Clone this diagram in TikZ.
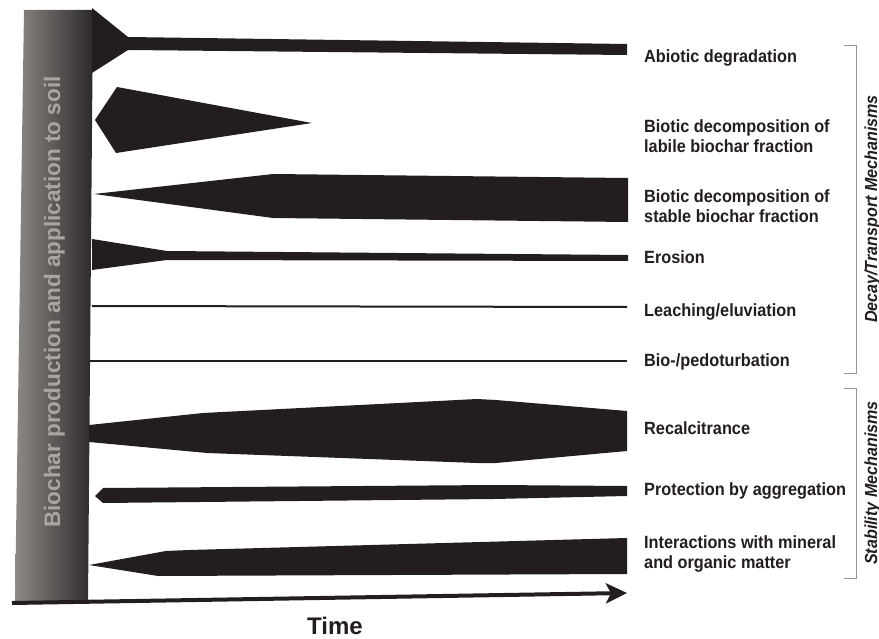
\documentclass[tikz,border=0pt]{standalone}
\usepackage{fontspec}
\setmainfont{Liberation Sans}
\newfontfamily\lblfont[FakeStretch=0.92]{Liberation Sans}
\usepackage{xcolor}
\usepackage{tikz}
\usetikzlibrary{arrows.meta}
\definecolor{charfill}{RGB}{35,29,29}
\definecolor{barlight}{RGB}{140,137,134}
\definecolor{bardark}{RGB}{44,41,41}
\definecolor{bartext}{RGB}{168,166,163}
\definecolor{bracketgray}{RGB}{150,150,150}

\tikzset{
  mech/.style={fill=charfill, draw=none},
  mechlabel/.style={font=\lblfont\bfseries\fontsize{17.7}{19.5}\selectfont,
    anchor=west, align=left, inner sep=0pt, text=charfill},
  grouplabel/.style={font=\lblfont\bfseries\itshape\fontsize{17.5}{20}\selectfont,
    rotate=90, anchor=base, inner sep=0pt, text=charfill},
  bracket/.style={bracketgray, line width=0.8pt},
}

\begin{document}
\begin{tikzpicture}[x=1pt,y=-1pt]
  \useasboundingbox (0,0) rectangle (879,639);

  % Production bar
  \shade[left color=barlight, middle color=barlight!85!bardark, right color=bardark]
    (24,10) -- (93,10) -- (88,603) -- (15,603) -- cycle;
  \node[font=\bfseries\fontsize{22.5}{26}\selectfont, text=bartext, rotate=90,
    anchor=base, inner sep=0pt] (barlabel) at (60,302)
    {Biochar production and application to soil};

  % Abiotic degradation
  \fill[mech] (92,8) -- (128,37) -- (627,44) -- (627,55) -- (128,50) -- (92,73) -- cycle;

  % Labile fraction
  \fill[mech] (95,120) -- (117,87) -- (312,123) -- (116,153) -- cycle;

  % Stable fraction
  \fill[mech] (94,194) -- (273,174) -- (628,178) -- (628,222) -- (273,218) -- cycle;

  % Erosion
  \fill[mech] (92,239) -- (167,251) -- (628,255) -- (628,261) -- (167,260) -- (92,270) -- cycle;

  % Leaching and turbation
  \draw[charfill, line width=2pt] (92,306) -- (627,307);
  \draw[charfill, line width=1.4pt] (90,361) -- (627,361);

  % Recalcitrance
  \fill[mech] (89,425) -- (203,413) -- (477,399) -- (496,400) -- (627,411)
    -- (627,451) -- (496,463) -- (477,463) -- (207,453) -- (89,442) -- cycle;

  % Aggregation
  \fill[mech] (95,496) -- (103,488) -- (494,485) -- (627,486) -- (627,496)
    -- (494,499) -- (103,503) -- cycle;

  % Mineral interactions
  \fill[mech] (89,565) -- (166,551) -- (189,550) -- (627,538) -- (627,574)
    -- (158,576) -- cycle;

  % Time axis
  \coordinate (origin) at (12,603);
  \coordinate (timeend) at (627,593);
  \draw[charfill, line width=4pt, -{Stealth[length=21pt,width=20pt,inset=5pt]}]
    (origin) -- (timeend);
  \node[font=\bfseries\fontsize{24}{28}\selectfont, text=charfill] (timelabel)
    at (335,626) {Time};

  % Mechanism labels
  \foreach \yy/\nm/\txt in {
      58/abiotic/{Abiotic degradation},
      136/labile/{Biotic decomposition of\\labile biochar fraction},
      206/stable/{Biotic decomposition of\\stable biochar fraction},
      257/erosion/{Erosion},
      312/leaching/{Leaching/eluviation},
      362/turbation/{Bio-/pedoturbation},
      428/recalc/{Recalcitrance},
      491/aggreg/{Protection by aggregation},
      554/mineral/{Interactions with mineral\\and organic matter}} {
    \node[mechlabel] (lab-\nm) at (644,\yy) {\txt};
  }

  % Group brackets
  \draw[bracket] (844,45) -- (856,45) -- (856,373) -- (844,373);
  \draw[bracket] (844,388) -- (856,388) -- (856,578) -- (844,578);
  \node[grouplabel] (decay) at (877,209) {Decay/Transport Mechanisms};
  \node[grouplabel] (stability) at (877,483) {Stability Mechanisms};
\end{tikzpicture}
\end{document}
